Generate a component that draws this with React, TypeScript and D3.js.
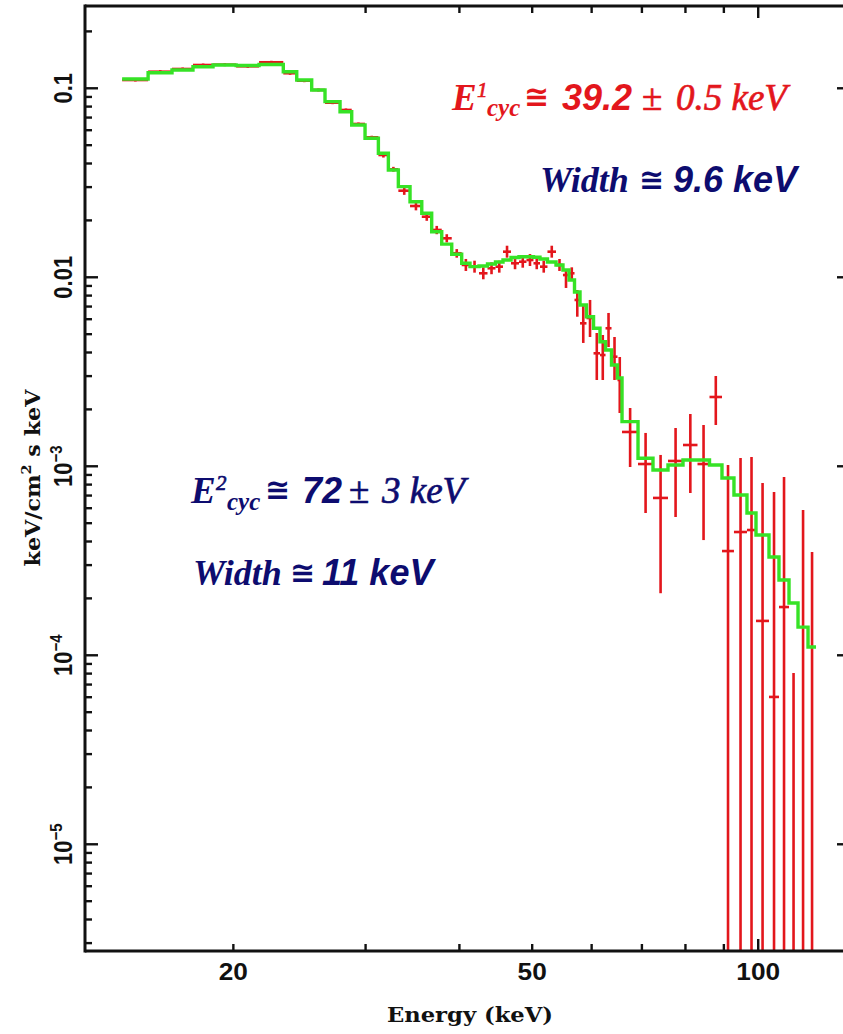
import React from 'react';
import * as d3 from 'd3';

// Energy bins (keV): lower and upper edges
const binLo = [
  14.22, 15.40, 16.57, 17.67, 18.79, 20.17, 21.64,
  23.31, 24.29, 25.43, 26.49, 27.74, 28.75, 29.95, 31.20, 32.17, 33.17, 34.38, 35.64, 36.74, 37.89, 39.07,
  40.28, 41.32, 42.48, 43.60, 44.68, 45.72, 46.86, 48.02, 49.13, 50.20, 51.21, 52.40, 53.79,
  54.95, 55.98, 56.93, 57.90, 59.06, 60.35, 61.56, 62.61, 63.77, 64.95,
  65.86, 69.17, 72.42, 75.83, 79.40, 83.01, 86.12, 89.48, 92.83, 96.61, 99.32, 103.36, 106.57, 109.90, 112.98, 116.50,
];
const binHi = [
  15.40, 16.57, 17.67, 18.79, 20.17, 21.64, 23.31,
  24.29, 25.43, 26.49, 27.74, 28.75, 29.95, 31.20, 32.17, 33.17, 34.38, 35.64, 36.74, 37.89, 39.07, 40.28,
  41.32, 42.48, 43.60, 44.68, 45.72, 46.86, 48.02, 49.13, 50.20, 51.21, 52.40, 53.79, 54.95,
  55.98, 56.93, 57.90, 59.06, 60.35, 61.56, 62.61, 63.77, 64.95, 65.86,
  69.17, 72.42, 75.83, 79.40, 83.01, 86.12, 89.48, 92.83, 96.61, 99.32, 103.36, 106.57, 109.90, 112.98, 116.50, 119.39,
];
// Unfolded data (keV/cm^2 s keV); 0 = not shown
const flux = [
  0.1106, 0.1224, 0.1265, 0.1328, 0.1333, 0.1307, 0.1373,
  0.1201, 0.1097, 0.09795, 0.08392, 0.07677, 0.06474, 0.05504, 0.04436, 0.03727, 0.02872, 0.02383, 0.02092, 0.01780, 0.01608, 0.01340,
  0.01162, 0.01138, 0.01050, 0.01116, 0.01138, 0.01366, 0.01186, 0.01209, 0.01234, 0.01186, 0.01138, 0.01366, 0.01162,
  0.01028, 0.01050, 0.007586, 0.005708, 0.006088, 0.003961, 0.003879, 0.005374, 0.003800, 0.002862,
  0.001519, 0.001028, 0.000680, 0.001067, 0.001296, 0.001028, 0.002326, 0.000356, 0.000449, 0.000460, 0.000152, 0.0000602, 0.000180, 0, 0, 0,
];
const fluxLo = [
  0.1086, 0.1202, 0.1242, 0.1304, 0.1309, 0.1283, 0.1348,
  0.1179, 0.1077, 0.0962, 0.0824, 0.0754, 0.0636, 0.0540, 0.0430, 0.0362, 0.0273, 0.0226, 0.0199, 0.0169, 0.0153, 0.0127,
  0.01080, 0.01058, 0.00976, 0.01038, 0.01058, 0.01270, 0.01103, 0.01124, 0.01147, 0.01103, 0.01058, 0.01270, 0.01080,
  0.00878, 0.00976, 0.006185, 0.004493, 0.004831, 0.002862, 0.002862, 0.004276, 0.002862, 0.001914,
  0.000991, 0.000566, 0.000213, 0.000539, 0.000722, 0.000407, 0.001654, 0, 0, 0, 0, 0, 0, 0, 0, 0,
];
const fluxHi = [
  0.1126, 0.1246, 0.1288, 0.1352, 0.1357, 0.1331, 0.1398,
  0.1223, 0.1117, 0.0997, 0.0855, 0.0782, 0.0659, 0.0561, 0.0457, 0.0384, 0.0302, 0.0250, 0.0220, 0.0187, 0.0169, 0.0141,
  0.01250, 0.01224, 0.01129, 0.01200, 0.01224, 0.01469, 0.01275, 0.01300, 0.01327, 0.01275, 0.01224, 0.01469, 0.01250,
  0.01093, 0.01129, 0.008568, 0.007137, 0.007586, 0.005074, 0.004952, 0.006475, 0.004831, 0.003786,
  0.002034, 0.001501, 0.001148, 0.001594, 0.001891, 0.001654, 0.003005, 0.001016, 0.001106, 0.001120, 0.000816, 0.000731, 0.000878, 0.0000806, 0.000587, 0.000352,
];
// Best-fit model
const model = [
  0.1120, 0.1209, 0.1250, 0.1301, 0.1328, 0.1320, 0.1336,
  0.1224, 0.1106, 0.09795, 0.08495, 0.07520, 0.06395, 0.05437, 0.04529, 0.03695, 0.03016, 0.02512, 0.02181, 0.01743, 0.01497, 0.01325,
  0.01186, 0.01138, 0.01148, 0.01176, 0.01205, 0.01234, 0.01273, 0.01285, 0.01285, 0.01276, 0.01250, 0.01205, 0.01162,
  0.01093, 0.009676, 0.008363, 0.007137, 0.006185, 0.005374, 0.004563, 0.004123, 0.003436, 0.002932,
  0.001722, 0.001102, 0.000956, 0.001016, 0.001080, 0.001080, 0.001016, 0.000867, 0.000705, 0.000566, 0.000433, 0.000331, 0.000250, 0.000189, 0.000141, 0.0001106,
];

const xTickValues = [20, 30, 40, 50, 60, 70, 80, 90, 100];
const xLabelValues = [20, 50, 100];
const yDecades = [1e-5, 1e-4, 1e-3, 1e-2, 1e-1];
const yLabelMain = ['10', '10', '10', '0.01', '0.1'];
const yLabelExp = ['\u22125', '\u22124', '\u22123', '', ''];

const RED = '#e3161c';
const GREEN = '#36e226';
const NAVY = '#0d0c6f';
const AXIS = '#111';

const serif = "'Liberation Serif', 'Times New Roman', serif";
const sans = "'Liberation Sans', Arial, sans-serif";
const symb = "'DejaVu Sans', sans-serif";
const titleFont = "'DejaVu Serif', serif";

export default function App() {
  const W = 843, H = 1034;
  const left = 85, right = 850, top = 6, bottom = 951;
  const x = d3.scaleLog().domain([12.69, 132.5]).range([left, right]);
  const y = d3.scaleLog().domain([2.725e-6, 0.2725]).range([bottom, top]);
  const yMin = y.domain()[0];

  const pts: [number, number][] = binLo.map((e, i) => [x(e), y(model[i])]);
  pts.push([x(binHi[binHi.length - 1]), y(model[model.length - 1])]);
  const modelPath = d3.line().curve(d3.curveStepAfter)(pts) || '';

  const minorY: number[] = [];
  for (let k = -6; k <= -1; k++) {
    for (let m = 2; m <= 9; m++) {
      const v = m * Math.pow(10, k);
      if (v > y.domain()[0] && v < y.domain()[1]) minorY.push(v);
    }
  }

  const thin = { stroke: 'currentColor', strokeWidth: 0.7 } as const;

  return (
    <svg width={W} height={H} style={{ position: 'absolute', left: 0, top: 0, background: '#fff' }}>
      <defs>
        <clipPath id="plotClip">
          <rect x={left} y={top} width={right - left} height={bottom - top} />
        </clipPath>
      </defs>
      <rect x={0} y={0} width={W} height={H} fill="#fff" />

      {/* data */}
      <g clipPath="url(#plotClip)" stroke={RED} strokeWidth={2.6} fill="none">
        {binLo.map((lo, i) => {
          const hi = binHi[i];
          const cx = x((lo + hi) / 2);
          const yTop = y(fluxHi[i]);
          const yBot = y(Math.max(fluxLo[i], yMin * 0.5));
          return (
            <g key={i}>
              <line x1={cx} x2={cx} y1={yTop} y2={yBot} />
              {flux[i] > 0 && <line x1={x(lo)} x2={x(hi)} y1={y(flux[i])} y2={y(flux[i])} />}
            </g>
          );
        })}
      </g>
      <g clipPath="url(#plotClip)">
        <path d={modelPath} fill="none" stroke={GREEN} strokeWidth={3.4} strokeLinejoin="miter" />
      </g>

      {/* frame */}
      <g stroke={AXIS} strokeWidth={3} fill="none">
        <line x1={left} x2={left} y1={top - 1.5} y2={bottom + 1.5} />
        <line x1={left} x2={right} y1={bottom} y2={bottom} />
        <line x1={left} x2={right} y1={top} y2={top} />
        <line x1={right} x2={right} y1={top} y2={bottom} />
      </g>
      <g stroke={AXIS} strokeWidth={2.4}>
        {xTickValues.map((v) => {
          const len = v === 100 ? 12 : 7;
          return (
            <g key={v}>
              <line x1={x(v)} x2={x(v)} y1={bottom} y2={bottom - len} />
              <line x1={x(v)} x2={x(v)} y1={top} y2={top + len} />
            </g>
          );
        })}
        {yDecades.map((v) => (
          <g key={v}>
            <line x1={left} x2={left + 13} y1={y(v)} y2={y(v)} />
            <line x1={right} x2={right - 13} y1={y(v)} y2={y(v)} />
          </g>
        ))}
        {minorY.map((v) => (
          <line key={v} x1={left} x2={left + 7} y1={y(v)} y2={y(v)} />
        ))}
      </g>

      {/* x tick labels */}
      {xLabelValues.map((v) => (
        <g key={v} transform={`translate(${x(v)},980) scale(1.14,1)`}>
          <text textAnchor="middle" fontFamily={sans} fontWeight="bold" fontSize={23} fill={AXIS}>
            {v}
          </text>
        </g>
      ))}

      {/* y tick labels */}
      {yDecades.map((v, i) => (
        <g key={v} transform={`translate(72,${y(v)}) scale(1.15,1) rotate(-90)`}>
          <text textAnchor="middle" fontFamily={sans} fontWeight="bold" fontSize={22} fill={AXIS}>
            {yLabelMain[i]}
            {yLabelExp[i] && (
              <tspan fontSize={15} dy={-9}>
                {yLabelExp[i]}
              </tspan>
            )}
          </text>
        </g>
      ))}

      {/* axis titles */}
      <text x={470} y={1022} textAnchor="middle" fontFamily={titleFont} fontWeight="bold" fontSize={20}
        textLength={166} lengthAdjust="spacingAndGlyphs" fill={AXIS}>
        Energy (keV)
      </text>
      <g transform="translate(40,478) rotate(-90)">
        <text textAnchor="middle" fontFamily={titleFont} fontWeight="bold" fontSize={20} fill={AXIS}
          textLength={177} lengthAdjust="spacingAndGlyphs">
          keV/cm<tspan fontSize={13} dy={-9}>2</tspan><tspan dy={9}> s keV</tspan>
        </text>
      </g>

      {/* annotation: first cyclotron line */}
      <g fill={RED} color={RED}>
        <text x={452} y={110} fontFamily={serif} fontStyle="italic" fontWeight="bold" fontSize={37}>E</text>
        <text x={477} y={97} fontFamily={serif} fontStyle="italic" fontSize={21} {...thin}>1</text>
        <text x={487} y={116} fontFamily={serif} fontStyle="italic" fontWeight="bold" fontSize={25}>cyc</text>
        <text x={524} y={107} fontFamily={symb} fontWeight="bold" fontSize={30}>{'\u2245'}</text>
        <text x={562} y={110} fontFamily={sans} fontStyle="italic" fontWeight="bold" fontSize={36}>39.2</text>
        <text x={642} y={110} fontFamily={serif} fontSize={37} {...thin}>{'\u00b1'}</text>
        <text x={676} y={110} fontFamily={serif} fontStyle="italic" fontSize={37} {...thin}>0.5 keV</text>
      </g>
      <g fill={NAVY} color={NAVY}>
        <text x={540} y={192} fontFamily={serif} fontStyle="italic" fontWeight="bold" fontSize={36}>Width</text>
        <text x={639} y={190} fontFamily={symb} fontWeight="bold" fontSize={30}>{'\u2245'}</text>
        <text x={673} y={192} fontFamily={sans} fontStyle="italic" fontWeight="bold" fontSize={36}>9.6 keV</text>
      </g>

      {/* annotation: second cyclotron line */}
      <g fill={NAVY} color={NAVY}>
        <text x={191} y={503} fontFamily={serif} fontStyle="italic" fontWeight="bold" fontSize={37}>E</text>
        <text x={216} y={490} fontFamily={serif} fontStyle="italic" fontSize={21} {...thin}>2</text>
        <text x={227} y={510} fontFamily={serif} fontStyle="italic" fontWeight="bold" fontSize={25}>cyc</text>
        <text x={265} y={500} fontFamily={symb} fontWeight="bold" fontSize={30}>{'\u2245'}</text>
        <text x={302} y={503} fontFamily={sans} fontStyle="italic" fontWeight="bold" fontSize={36}>72</text>
        <text x={349} y={503} fontFamily={serif} fontSize={37} {...thin}>{'\u00b1'}</text>
        <text x={382} y={503} fontFamily={serif} fontStyle="italic" fontSize={37} {...thin}>3 keV</text>

        <text x={193} y={585} fontFamily={serif} fontStyle="italic" fontWeight="bold" fontSize={36}>Width</text>
        <text x={290} y={583} fontFamily={symb} fontWeight="bold" fontSize={30}>{'\u2245'}</text>
        <text x={322} y={585} fontFamily={sans} fontStyle="italic" fontWeight="bold" fontSize={36}>11 keV</text>
      </g>
    </svg>
  );
}
